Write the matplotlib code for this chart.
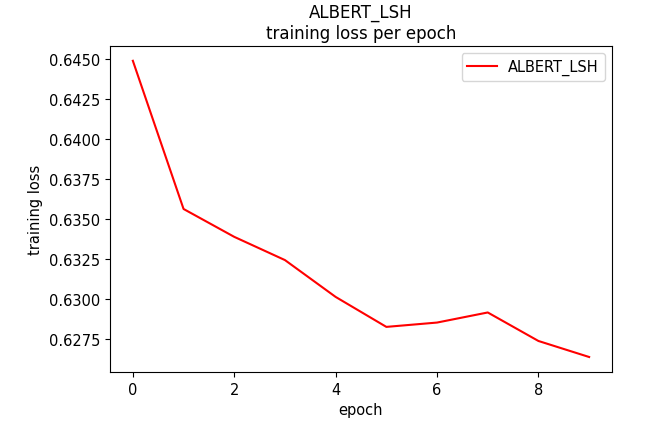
import matplotlib
matplotlib.use("Agg")
import matplotlib.pyplot as plt

epochs = [0, 1, 2, 3, 4, 5, 6, 7, 8, 9]
loss = [0.64488, 0.63563, 0.63389, 0.63244, 0.63014, 0.62827, 0.62854, 0.62917, 0.62739, 0.62639]
series_name = "ALBERT_LSH"
yticks = [0.6275, 0.6300, 0.6325, 0.6350, 0.6375, 0.6400, 0.6425, 0.6450]
xticks = [0, 2, 4, 6, 8]

fig = plt.figure(figsize=(6.71, 4.31), dpi=100)
ax = fig.add_axes([0.164, 0.135, 0.748, 0.756])
ax.plot(epochs, loss, color="red", label=series_name, linewidth=1.5)
ax.set_title("ALBERT_LSH\ntraining loss per epoch", fontsize=12)
ax.set_xlabel("epoch", fontsize=10.5)
ax.set_ylabel("training loss", fontsize=10.5)
ax.set_xticks(xticks)
ax.set_yticks(yticks)
ax.set_yticklabels([f"{v:.4f}" for v in yticks])
ax.tick_params(labelsize=10.5)
ax.legend(loc="upper right", fontsize=10.5)
fig.savefig("out.png", dpi=100)
